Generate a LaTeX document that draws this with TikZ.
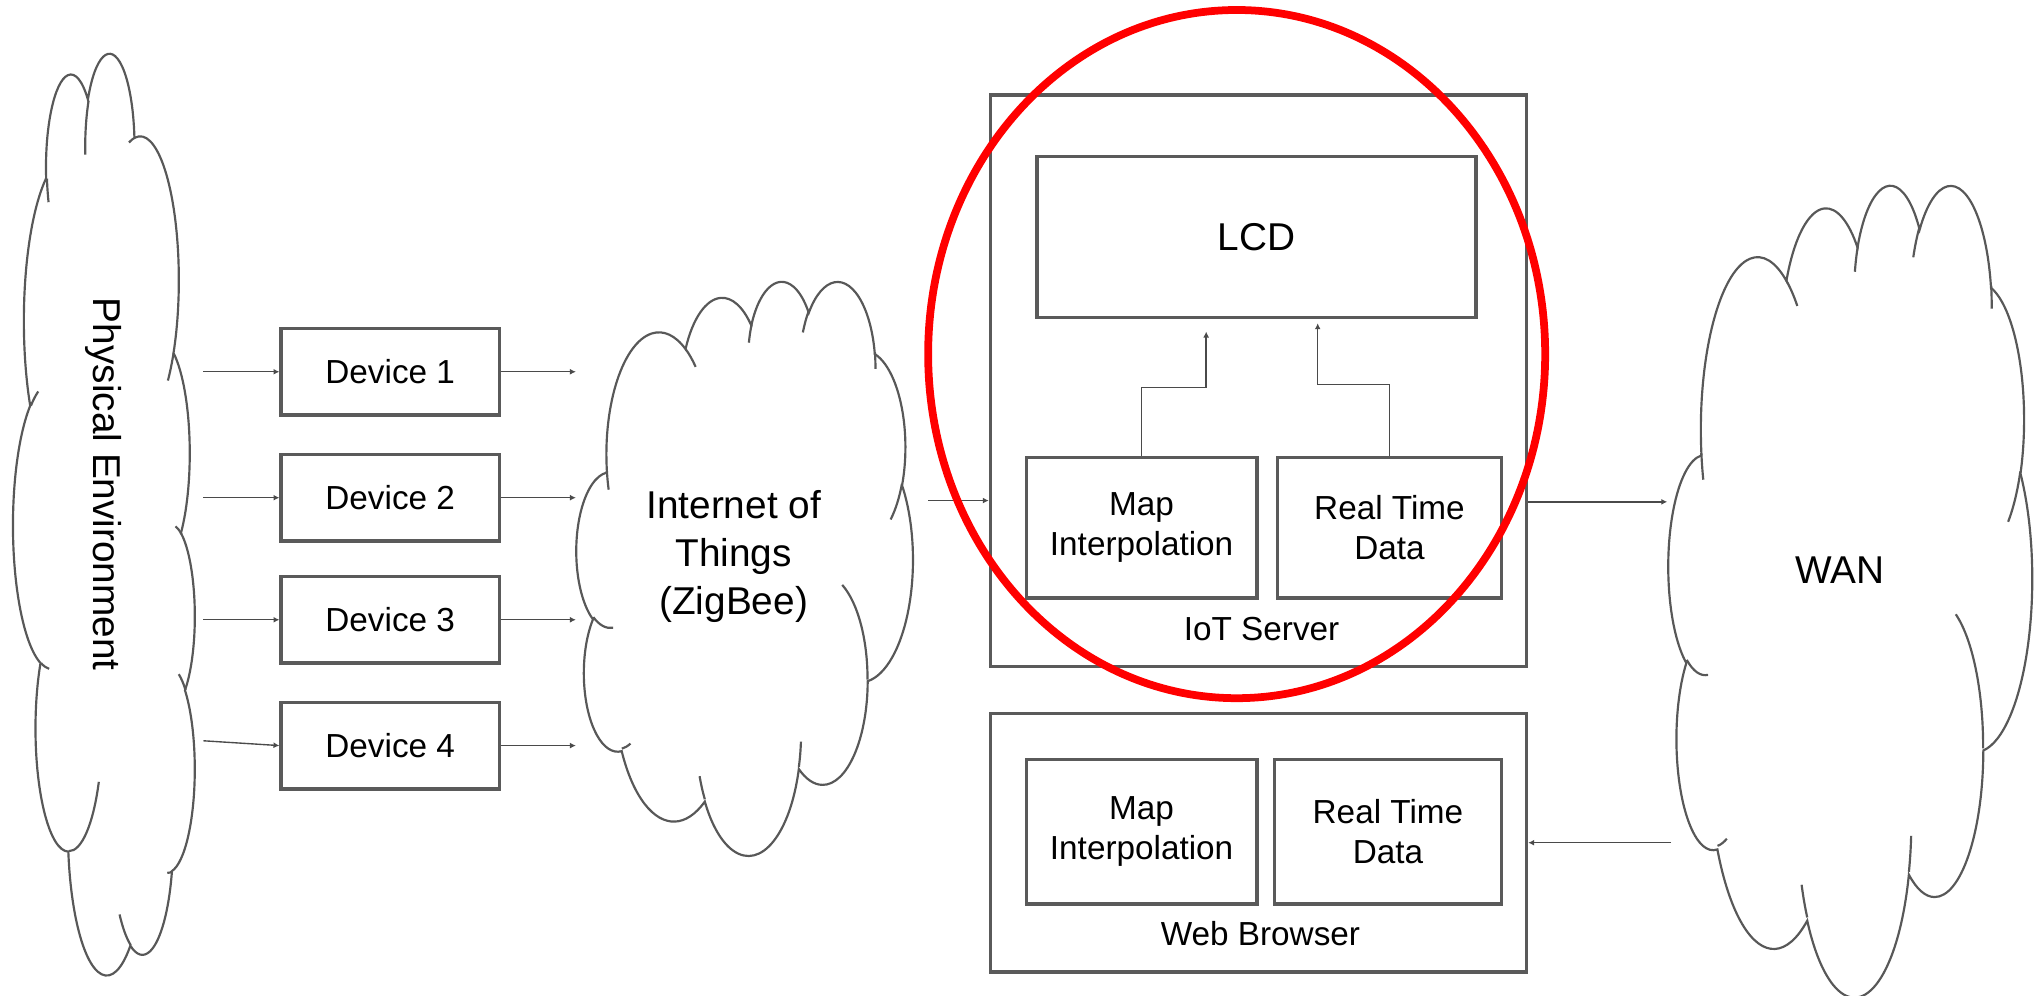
\documentclass[tikz,border=0pt]{standalone}
\usepackage{fontspec}
\setmainfont{Liberation Sans}
\usetikzlibrary{arrows.meta}

\definecolor{boxgray}{HTML}{5A5A5A}
\definecolor{cloudgray}{HTML}{585858}
\definecolor{arrgray}{HTML}{4A4A4A}
\definecolor{ringred}{HTML}{FF0000}

% OOXML-style elliptical arc (visual angles), y axis pointing down
\newcommand\ooarc[4]{%
  \pgfextra{%
    \pgfmathsetmacro\ooTa{atan2((#1)*sin(#3),(#2)*cos(#3))}%
    \pgfmathsetmacro\ooTb{atan2((#1)*sin((#3)+(#4)),(#2)*cos((#3)+(#4)))}%
    \pgfmathsetmacro\ooD{\ooTb-\ooTa}%
    \pgfmathsetmacro\ooD{ifthenelse((#4)>0,ifthenelse(\ooD<0,\ooD+360,\ooD),ifthenelse(\ooD>0,\ooD-360,\ooD))}%
    \global\let\ooTa\ooTa\global\let\ooD\ooD}%
  arc[start angle=\ooTa, delta angle=\ooD, x radius=#1, y radius=#2]}

\newcommand\ppcloud{%
  \draw[cloudline, fill=white] (3.900,14.370)
    \ooarc{6.753}{9.190}{-190.48748}{123.78053}
    \ooarc{5.333}{7.267}{-144.10238}{89.94523}
    \ooarc{4.365}{5.945}{-145.80792}{99.72302}
    \ooarc{4.857}{6.595}{-130.98607}{117.24173}
    \ooarc{5.333}{7.273}{-78.70888}{109.02692}
    \ooarc{6.775}{9.220}{-46.26725}{130.26900}
    \ooarc{5.785}{7.867}{0.62502}{114.03333}
    \ooarc{6.752}{9.215}{22.45160}{115.17255}
    \ooarc{7.720}{10.543}{66.24263}{75.71102}
    \ooarc{4.360}{5.918}{-274.94208}{146.73557}
    \ooarc{4.345}{5.945}{-246.82850}{152.51885}
    -- cycle;
  \draw[cloudline]
    (4.693,26.177) \ooarc{4.345}{5.945}{86.742}{26.4295}
    (6.928,34.899) \ooarc{4.360}{5.918}{73.61047}{11.44747}
    (16.478,39.090) \ooarc{6.752}{9.215}{137.62415}{14.0811}
    (28.827,34.751) \ooarc{6.752}{9.215}{6.45327}{15.99835}
    (34.129,22.954) \ooarc{5.785}{7.867}{-70.29235}{70.91737}
    (41.798,15.354) \ooarc{5.333}{7.273}{30.31803}{27.7515}
    (38.324,5.426) \ooarc{4.857}{6.595}{-13.74433}{14.8589}
    (29.078,3.952) \ooarc{4.857}{6.595}{-149.18145}{18.19537}
    (22.141,4.720) \ooarc{4.365}{5.945}{-163.49427}{17.68635}
    (14.000,5.192) \ooarc{6.753}{9.190}{-66.70695}{12.31935}
    (4.127,15.789) \ooarc{6.753}{9.190}{157.65435}{11.85817};
}
% #1 cx, #2 cy, #3 width, #4 height (unrotated), #5 rotation
\newcommand\cloudat[5]{%
  \begin{scope}[shift={(#1,#2)}, rotate=#5, xscale=#3/43.2, yscale=#4/43.2, shift={(-21.6,-21.6)}]
    \ppcloud
  \end{scope}}

\newcommand\fsmall{\fontsize{14.6}{17.5}\selectfont}
\newcommand\fbig{\fontsize{17}{21}\selectfont}

\tikzset{
  box/.style={draw=boxgray, line width=1.5pt, rectangle, inner sep=0pt, align=center, font=\fsmall, text=black},
  cloudline/.style={draw=cloudgray, line width=0.95pt},
  arr/.style={draw=arrgray, line width=0.6pt, -{Latex[length=2.6pt,width=2.6pt]}},
  lbl/.style={inner sep=0pt, align=center, text=black},
}

\begin{document}
\begin{tikzpicture}[x=0.02cm, y=-0.02cm]
\fill[white] (0,0) rectangle (1568,767);
\useasboundingbox (0,0) rectangle (1568,767);

% clouds
\cloudat{80.5}{396.5}{709}{140}{-90}
\cloudat{573.5}{436.6}{259}{442}{0}
\cloudat{1425}{453.5}{280}{625}{0}

\node[lbl, font=\fbig, rotate=-90] (petext) at (80,373) {Physical Environment};
\node[lbl, font=\fbig] (iottext) at (565,428.3) {Internet of\\Things\\(ZigBee)};
\node[lbl, font=\fbig] (wantext) at (1417,439) {WAN};

% devices
\node[box, minimum width=3.36cm, minimum height=1.334cm] (dev1) at (300.5,286.3) {Device 1};
\node[box, minimum width=3.36cm, minimum height=1.334cm] (dev2) at (300.5,383.3) {Device 2};
\node[box, minimum width=3.36cm, minimum height=1.334cm] (dev3) at (300.5,477.3) {Device 3};
\node[box, minimum width=3.36cm, minimum height=1.334cm] (dev4) at (300.5,574.2) {Device 4};

\coordinate (pe1) at (156.7,286.3);
\coordinate (pe2) at (156.7,383.3);
\coordinate (pe3) at (156.7,477.3);
\coordinate (pe4) at (156.7,570.5);
\coordinate (io1) at (443.5,286.3);
\coordinate (io2) at (443.5,383.3);
\coordinate (io3) at (443.5,477.3);
\coordinate (io4) at (443.5,574.2);

\draw[arr] (pe1) -- (dev1.west);
\draw[arr] (pe2) -- (dev2.west);
\draw[arr] (pe3) -- (dev3.west);
\draw[arr] (pe4) -- (dev4.west);
\draw[arr] (dev1.east) -- (io1);
\draw[arr] (dev2.east) -- (io2);
\draw[arr] (dev3.east) -- (io3);
\draw[arr] (dev4.east) -- (io4);

% IoT server
\node[box, minimum width=8.258cm, minimum height=8.8cm] (server) at (969.2,293.2) {};
\node[box, font=\fbig, minimum width=6.76cm, minimum height=2.482cm] (lcd) at (967.6,182.5) {LCD};
\node[box, minimum width=3.55cm, minimum height=2.168cm] (smap) at (879.2,406.5) {Map\\Interpolation};
\node[box, minimum width=3.454cm, minimum height=2.168cm] (sreal) at (1070.1,406.5) {Real Time\\Data};
\node[lbl, font=\fsmall] (servertext) at (971.6,484.3) {IoT Server};

\draw[arr] (smap.north) -- ++(0,-52.5) -| ([shift={(-38.7,9.5)}]lcd.south);
\draw[arr] (sreal.north) -- ++(0,-55) -| ([shift={(47.2,3.1)}]lcd.south);

% web browser
\node[box, minimum width=8.258cm, minimum height=3.986cm] (web) at (969.2,649) {};
\node[box, minimum width=3.55cm, minimum height=2.228cm] (wmap) at (879.2,640.5) {Map\\Interpolation};
\node[box, minimum width=3.502cm, minimum height=2.228cm] (wreal) at (1068.9,640.5) {Real Time\\Data};
\node[lbl, font=\fsmall] (webtext) at (970.7,718.8) {Web Browser};

% links
\coordinate (iotout) at (715,385.5);
\coordinate (wanin) at (1284,386.5);
\coordinate (wanout) at (1287,649);
\draw[arr] (iotout) -- (iotout -| server.west);
\draw[arr] (server.east |- wanin) -- (wanin);
\draw[arr] (wanout) -- (wanout -| web.east);

% highlight ring
\draw[ringred, line width=3.4pt] (952.4,272.7) ellipse [x radius=237.6, y radius=265];
\end{tikzpicture}
\end{document}
